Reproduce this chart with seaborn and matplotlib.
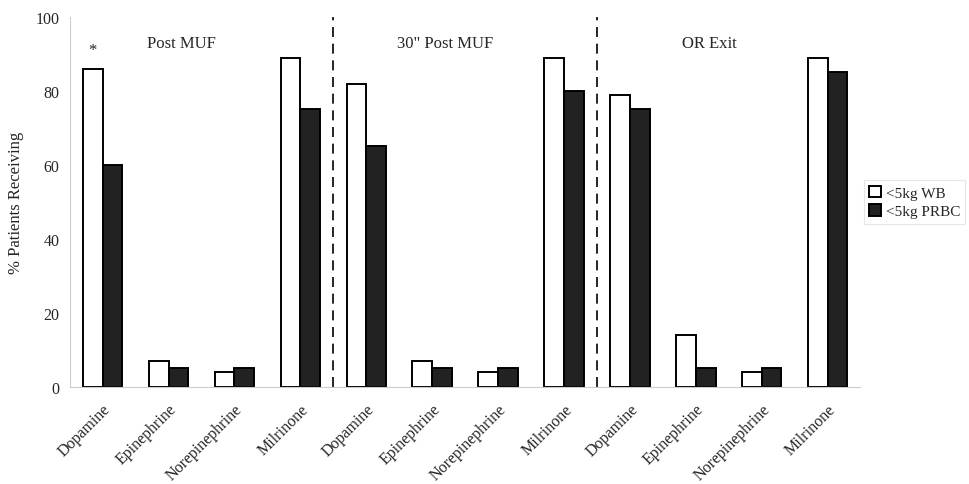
import matplotlib
matplotlib.use("Agg")
import matplotlib.pyplot as plt
import seaborn as sns
import pandas as pd

# data
phases = ["Post MUF", '30" Post MUF', "OR Exit"]
drugs = ["Dopamine", "Epinephrine", "Norepinephrine", "Milrinone"]
groups = ["<5kg WB", "<5kg PRBC"]

wb_pct = [86, 7, 4, 89,   82, 7, 4, 89,   79, 14, 4, 89]
prbc_pct = [60, 5, 5, 75,   65, 5, 5, 80,   75, 5, 5, 85]

slots = [f"{p}|{d}" for p in phases for d in drugs]
df = pd.DataFrame({
    "slot": slots * 2,
    "pct": wb_pct + prbc_pct,
    "group": [groups[0]] * len(slots) + [groups[1]] * len(slots),
})

sns.set_style("white")
plt.rcParams["font.family"] = ["Liberation Serif", "DejaVu Serif"]

fig, ax = plt.subplots(figsize=(9.69, 4.85), dpi=100)
fig.subplots_adjust(left=0.072, right=0.888, top=0.963, bottom=0.2)

sns.barplot(data=df, x="slot", y="pct", hue="group", order=slots,
            hue_order=groups, palette=["white", "#222222"],
            edgecolor="black", linewidth=1.4, width=0.6, gap=0,
            saturation=1, ax=ax)

ax.set_ylim(0, 100)
ax.set_xlim(-0.5, len(slots) - 0.5)
ax.set_yticks([0, 20, 40, 60, 80, 100])
ax.tick_params(axis="y", labelsize=11.5, length=4, color="#bbbbbb", width=0.8)
ax.set_xticks(range(len(slots)))
ax.set_xticklabels([s.split("|")[1] for s in slots], rotation=45,
                   ha="right", rotation_mode="anchor", fontsize=11.5)
ax.tick_params(axis="x", length=0, pad=10)
ax.set_xticks([i + 0.5 for i in range(len(slots) - 1)], minor=True)
ax.tick_params(axis="x", which="minor", length=3, color="#bbbbbb")
ax.set_xlabel("")
ax.set_ylabel("% Patients Receiving", fontsize=12, labelpad=8)

for side in ["top", "right"]:
    ax.spines[side].set_visible(False)
for side in ["left", "bottom"]:
    ax.spines[side].set_color("#cccccc")
    ax.spines[side].set_linewidth(0.8)

# phase separators and labels
for x in [3.5, 7.5]:
    ax.axvline(x, color="black", linestyle=(0, (6, 4)), linewidth=1.2)
for i, p in enumerate(phases):
    ax.text(i * 4 + 1.2, 93, p, ha="center", va="center", fontsize=12)

# significance marker
ax.text(-0.15, wb_pct[0] + 5, "*", ha="center", va="center", fontsize=12)

handles, labels = ax.get_legend_handles_labels()
leg = ax.legend(handles, labels, loc="center left", bbox_to_anchor=(1.0, 0.5),
                fontsize=11, handlelength=0.8, handleheight=0.8,
                handletextpad=0.3, borderpad=0.35, borderaxespad=0.2,
                labelspacing=0.3, frameon=True, fancybox=False)
leg.get_frame().set_edgecolor("#e0e0e0")
leg.get_frame().set_linewidth(0.8)

plt.savefig("out.png", dpi=100)
plt.close()
